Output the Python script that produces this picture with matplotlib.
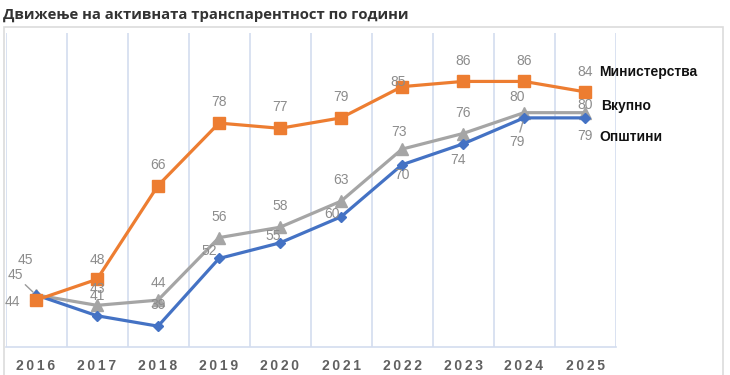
import numpy as np
import matplotlib
matplotlib.use("Agg")
import matplotlib.pyplot as plt
from matplotlib.patches import Rectangle

# ---- data ----
years = [2016, 2017, 2018, 2019, 2020, 2021, 2022, 2023, 2024, 2025]
ministries = [44, 48, 66, 78, 77, 79, 85, 86, 86, 84]
total = [45, 43, 44, 56, 58, 63, 73, 76, 80, 80]
municipalities = [45, 41, 39, 52, 55, 60, 70, 74, 79, 79]
series_names = ["Министерства", "Вкупно", "Општини"]
title = "Движење на активната транспарентност по години"

# ---- label offsets in pixels (dx, dy) ----
off_min = [(-24, -2), (0, 19), (0, 21), (0, 21), (0, 21), (0, 21), (-4, 5), (0, 20), (0, 20), (0, 20)]
off_tot = [(-11, 35), (0, 16), (0, 17), (0, 21), (0, 21), (0, 21), (-3, 17), (0, 21), (-7, 16), (0, 8)]
off_mun = [(-21, 20), (0, 20), (0, 21), (-10, 7), (-7, 7), (-9, 3), (0, -10), (-5, -16), (-7, -24), (0, -18)]

c_orange = "#ED7D31"
c_gray = "#A5A5A5"
c_blue = "#4472C4"
lbl_color = "#8c8c8c"
grid_color = "#d3ddef"

fig = plt.figure(figsize=(7.3, 3.75), dpi=100)
fig.patch.set_facecolor("white")

# outer frame
fig.patches.append(Rectangle((4 / 730, -0.05), 719 / 730, 1.05 - 27 / 375, transform=fig.transFigure,
                             fill=False, edgecolor="#dcdcdc", lw=1.2))

ax = fig.add_axes([5.5 / 730, 28 / 375, 610 / 730, 314 / 375])
x = np.arange(len(years))

ax.plot(x, total, color=c_gray, lw=2.3, marker="^", ms=8, zorder=3)
ax.plot(x, municipalities, color=c_blue, lw=2.3, marker="D", ms=5.5, zorder=4)
ax.plot(x, ministries, color=c_orange, lw=2.3, marker="s", ms=9, zorder=5)

ax.set_xlim(-0.5, len(years) - 0.5)
ax.set_ylim(35, 95.3)
ax.set_yticks([])
ax.set_xticks(x)
ax.set_xticklabels(["\u2009".join(str(y)) for y in years], fontsize=10, fontweight="bold",
                   color="#606060", family=["Liberation Sans", "DejaVu Sans"])
ax.tick_params(axis="x", length=0, pad=9)
ax.set_xticks(np.arange(-0.5, len(years)), minor=True)
ax.tick_params(axis="x", which="minor", length=0)
ax.grid(True, which="minor", axis="x", color=grid_color, lw=1.2)
for s in ["left", "top", "right"]:
    ax.spines[s].set_visible(False)
ax.spines["bottom"].set_color(grid_color)
ax.spines["bottom"].set_linewidth(1.2)


def labels(vals, offs, lead=()):
    for i, (v, (dx, dy)) in enumerate(zip(vals, offs)):
        kw = {}
        if i in lead:
            kw["arrowprops"] = dict(arrowstyle="-", color="#9a9a9a", lw=1.0, shrinkA=0, shrinkB=3)
        ax.annotate(str(v), (x[i], v), xytext=(dx, dy), textcoords="offset pixels",
                    ha="center", va="center", fontsize=10, color=lbl_color,
                    family="Liberation Sans", zorder=6, annotation_clip=False, **kw)


labels(ministries, off_min)
labels(total, off_tot)
labels(municipalities, off_mun, lead=(0, 8))

# series names at the line ends
last = len(years) - 1
for name, vals, (dx, dy) in zip(series_names, [ministries, total, municipalities],
                                [(14, 20), (16, 7), (14, -19)]):
    ax.annotate(name, (x[last], vals[last]), xytext=(dx, dy), textcoords="offset pixels",
                ha="left", va="center", fontsize=10, fontweight="bold", color="#111111",
                family="Liberation Sans", annotation_clip=False)

fig.text(3 / 730, 1 - 15 / 375, title, fontsize=10.7, fontweight="bold", color="#333333",
         family="Open Sans", ha="left", va="center")

fig.savefig("out.png", dpi=100, facecolor="white")
